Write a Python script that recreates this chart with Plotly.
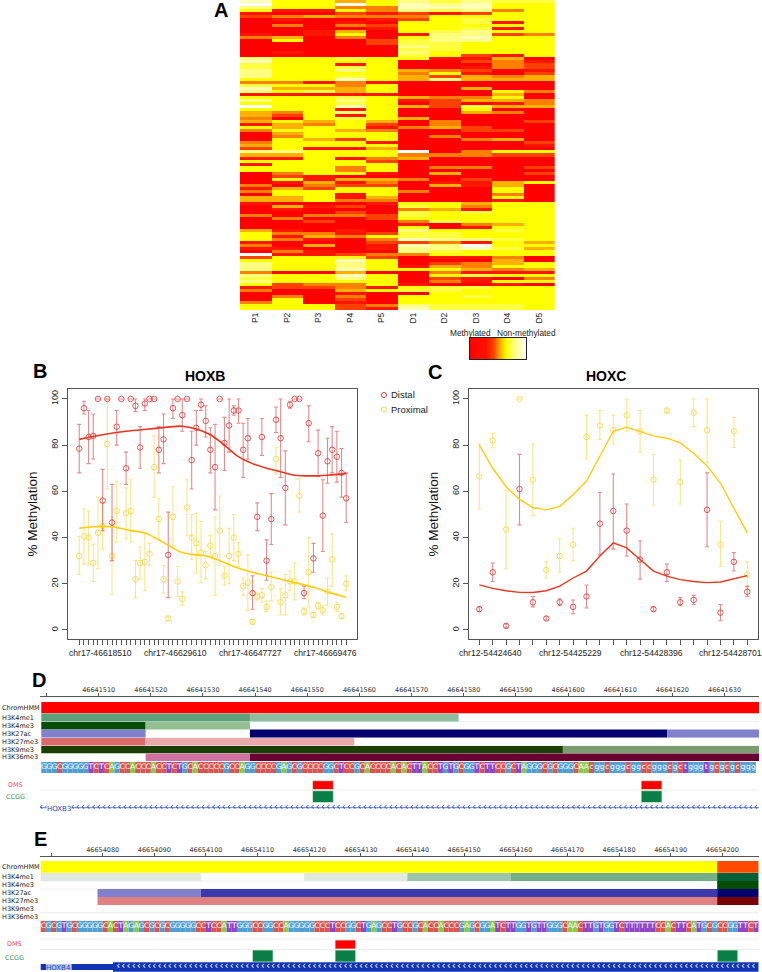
import plotly.graph_objects as go

W, H = 762, 972
SANS = "Liberation Sans"
DJ = "DejaVu Sans"

# ---------- Panel A data ----------
SAMPLES = ["P1", "P2", "P3", "P4", "P5", "D1", "D2", "D3", "D4", "D5"]
METHYL_ROWS = [
    "8554576766", "9559587855", "7553388855", "5115376735", "1002121255",
    "2343335555", "0100125655", "0001055615", "0303255555", "0000155615",
    "0014056755", "1015017723", "3403057855", "0500267755", "0000266555",
    "0000076555", "0000066555", "0100075555", "0000065215", "7556551140",
    "8555500231", "6551500032", "6556500132", "7557543201", "7555535102",
    "7556542434", "5558547444", "3313100000", "6553500000", "8444500400",
    "7564500053", "1111100040", "5556543350", "7557512443", "5556502013",
    "9558542644", "5551500500", "4357500430", "4251500000", "3056540000",
    "4545403002", "1435203000", "5455134200", "3554300220", "0455500000",
    "0355503000", "0542500340", "3555100002", "4555500001", "2511400000",
    "7755590355", "4455533322", "1151340000", "5555200000", "1555500000",
    "5553503302", "5553500000", "0355104002", "0210000000", "0514430200",
    "0141301145", "3032204140", "1425500050", "3555530050", "0551500030",
    "4451400050", "4453300010", "1000155455", "0412065355", "0100034155",
    "0002065655", "3033265555", "0300255555", "0020036555", "0000010345",
    "0000050155", "4101075565", "5331266555", "5143566555", "5310387765",
    "1000223154", "3040187955", "1100177864", "0310076555", "9112335555",
    "2555201130", "5558500040", "7557502345", "7557514355", "7558555434",
    "3004003111", "7558505655", "6557502103", "7555503155", "5233510010",
    "1223156655", "3004566555", "0001005555", "0303055655", "0502055555",
    "3501055555", "5552376665", "5552186665",
]
LEVELS = [0, .30, .42, .48, .55, .65, .72, .80, .90, 1]
LEVEL_COLORS = ["#FF0000", "#FF1500", "#FF4000", "#FF8000", "#FFB000",
                "#FFFF00", "#FFFF40", "#FFFF80", "#FFFFB8", "#FFFFFF"]

# ---------- Panel B data ----------
B_DISTAL = [78.5, 96, 83.5, 84, 100, 56, 100, 46.5, 88, 100, 70, 100, 97, 79, 98, 100, 100, 78, 82.5, 32.5,
            96, 100, 93, 100, 73.5, 87.5, 97.5, 90.5, 78, 70.5, 100, 81, 88.5, 95, 95, 78, 83, 16, 49, 83.5,
            30, 48, 91, 83, 61.5, 97.5, 100, 100, 16, 89.5, 31, 76.5, 49.5, 73, 78, 75, 68, 57]
B_DISTAL_LO = [68, 93.5, 72, 74, 100, 43, 100, 30, 80, 100, 63, 100, 94.5, 70, 95, 100, 100, 68, 72, 14,
               91.5, 100, 86, 100, 61, 80, 95, 83.5, 68, 52, 100, 69, 77, 93, 89.5, 66, 74, 9, 43, 75.5,
               21.5, 37, 85.5, 66, 45.5, 96, 100, 100, 13.5, 81.5, 25, 66.5, 34, 63.5, 68, 64, 57.5, 46.5]
B_DISTAL_HI = [89, 99, 95, 93.5, 100, 69.5, 100, 63, 95, 100, 77, 100, 100, 88, 100, 100, 100, 88, 93.5, 51,
               100, 100, 100, 100, 86, 95, 100, 97, 87.5, 89, 100, 92, 100, 97, 100, 89.5, 91.5, 23.5, 55, 91.5,
               39, 59, 96.5, 100, 77.5, 99, 100, 100, 19, 97, 37.5, 86.5, 65, 83, 88, 86, 78.5, 68]
B_PROX = [32, 40.5, 40, 29, 42, 45, 80.5, 32, 51.5, None, 50.5, 51.5, 22, 29, 29.5, 33, 70.5, 48, 22, 5,
          49, 21, 13.5, 53, 40, 37.5, 33.5, 28, 36.5, 32, 43, 23.5, 32, 40, 33, 19, 20.5, 3.5, 14.5, 15,
          10, 18.5, 74, 12, 15, 21, 21, 58, 8, 25, 6.5, 10.5, 8.5, 16.5, 30.5, 10, 6, 20]
B_PROX_LO = [24, 28.5, 28.5, 21, 26.5, 35, 61, 15.5, 38, None, 39.5, 38, 14, 22, 17, 28, 57.5, 39, 16, 4,
             36, 14.5, 10.5, 41, 30.5, 24.5, 20.5, 22, 32, 15, 28, 19.5, 20, 30, 27.5, 15, 8.5, 2.5, 13, 12,
             8, 12.5, 68, 6.5, 6.5, 17, 13, 51, 6.5, 10, 5.5, 9, 6.5, 10.5, 19, 8, 5, 17]
B_PROX_HI = [40.5, 52.5, 51.5, 37, 57.5, 55, 100, 49, 64.5, None, 61.5, 65, 30, 36, 42, 37.5, 84, 57, 28, 6,
             62, 27.5, 16.5, 65, 50, 50.5, 47, 34, 41, 49, 58, 27.5, 44, 50, 38, 22.5, 32.5, 4.5, 16, 18,
             12.5, 25, 79, 18, 24, 25.5, 29, 65.5, 9.5, 40, 7.5, 12, 10.5, 22.5, 41.5, 12, 7, 23.5]
B_SMOOTH_RED_X = [0, 5, 10, 15, 20, 22, 25, 28, 31, 34, 37, 40, 43, 46, 50, 53, 57]
B_SMOOTH_RED = [82.5, 84.5, 86, 87, 88, 88.2, 87, 84.5, 80, 75, 72, 70, 68.5, 67, 66.7, 67, 67.8]
B_SMOOTH_YEL_X = [0, 3, 7, 11, 14, 17, 20, 22, 25, 27, 30, 33, 36, 40, 45, 50, 53, 57]
B_SMOOTH_YEL = [44, 44.7, 44.7, 43, 42, 39, 35.5, 33.5, 32.5, 32, 30, 27.5, 25.5, 23.5, 21, 18.5, 16.5, 14.2]
B_LABELS = ["chr17-46618510", "chr17-46629610", "chr17-46647727", "chr17-46669476"]

# ---------- Panel C data ----------
C_DISTAL = [9, 25, 1.8, 61, 12, 5, 12, 10, 14.5, 46, 51.5, 43, 30.5, 9, 25, 12, 13, 52, 7.5, 29.5, 16.5]
C_DISTAL_LO = [8, 21, 1, 45.5, 10, 4.3, 10.5, 7, 9.5, 32.5, 35, 32, 22, 8.2, 21, 10.5, 11, 36, 4, 25.5, 14.5]
C_DISTAL_HI = [10, 29, 2.6, 76, 14.5, 5.7, 13.5, 13, 19.5, 59.5, 67.5, 54.5, 38.5, 10, 28.5, 14, 15, 68, 11, 33.5, 19]
C_PROX = [66.5, 82, 43.5, 100, 65, 26, 32, 37, 83.5, 88.5, 86.5, 93, 86, 65, 95, 64, 94, 86.5, 37, 86, 24]
C_PROX_LO = [52.5, 79, 26.5, 100, 49.5, 22.5, 25, 30, 74, 82.5, 80.5, 86, 77, 54, 94, 54.5, 88, 72.5, 27.5, 79, 18.5]
C_PROX_HI = [80.5, 85, 60.5, 100, 80.5, 29.5, 39.5, 44, 93, 95, 93, 100, 95, 76, 96, 73.5, 100, 100, 47, 92, 29.5]
C_SMOOTH_RED = [19.5, 18, 17, 16.3, 16.2, 17, 19, 22.5, 25.5, 32, 37.7, 35.5, 30.5, 25.5, 23.3, 21.8, 21, 20.5, 20.8, 22, 23.5]
C_SMOOTH_YEL = [80, 70, 62, 56.5, 53, 52, 53.5, 58.5, 64.5, 75, 86, 87.8, 86, 84, 83, 81, 76.5, 71, 63.5, 53, 42]
C_LABELS = ["chr12-54424640", "chr12-54425229", "chr12-54428396", "chr12-54428701"]

# ---------- Panel D data ----------
TRACK_NAMES = ["ChromHMM", "H3K4me1", "H3K4me3", "H3K27ac", "H3K27me3", "H3K9me3", "H3K36me3"]
D_START, D_END = 46641499, 46641637
D_CHROMHMM = [(46641499, 46641637, "A")]
D_K4ME1 = [(46641499, 46641539, "B"), (46641539, 46641579, "C")]
D_K4ME3 = [(46641499, 46641519, "A"), (46641519, 46641539, "C")]
D_K27AC = [(46641499, 46641519, "C"), (46641539, 46641619, "A"), (46641619, 46641637, "C")]
D_K27ME3 = [(46641499, 46641519, "B"), (46641519, 46641559, "C")]
D_K9ME3 = [(46641499, 46641599, "A"), (46641599, 46641637, "C")]
D_K36ME3 = [(46641519, 46641539, "C"), (46641539, 46641637, "A")]
D_SEQUENCE = ("GGGCGGGGGTCTCAGCCACCCACCTCTGCACCCCCGCCAGGCCCCGAGCGCCCCGGCTCCGCACCCCAC"
              "ACTTACCTGTGCGGTCTTCCGCTAGGGCGCGGGCAAcggcgggcggccgggcgctgggtgcgcgcggg")
D_DMS = [(46641551, 46641555), (46641614, 46641618)]
D_CCGG = [(46641551, 46641555), (46641614, 46641618)]
D_TICKS = [46641500, 46641510, 46641520, 46641530, 46641540, 46641550, 46641560, 46641570,
           46641580, 46641590, 46641600, 46641610, 46641620, 46641630]

# ---------- Panel E data ----------
E_START, E_END = 46654068, 46654207
E_CHROMHMM = [(46654068, 46654199, "Y"), (46654199, 46654207, "O")]
E_K4ME1 = [(46654068, 46654099, "P"), (46654119, 46654139, "P"), (46654139, 46654159, "C"),
           (46654159, 46654199, "B"), (46654199, 46654207, "A")]
E_K4ME3 = [(46654199, 46654207, "A")]
E_K27AC = [(46654079, 46654099, "C"), (46654099, 46654199, "B"), (46654199, 46654207, "A")]
E_K27ME3 = [(46654079, 46654199, "B"), (46654199, 46654207, "A")]
E_K9ME3 = []
E_K36ME3 = []
E_SEQUENCE = ("CGCGTGCGGGGGCACTAGAGCGCGCGGGGGCCTCCATTGGGCCGGCCAGGGGGCCCTCCGGCTGAGCCTG"
              "CCGCACCACCCGAGCGGATCTTGGTGTTGGGCAACTTGTGGTCTTTTTTCCACTTCATGCGCCGGTTCT")
E_DMS = [(46654125, 46654129)]
E_CCGG = [(46654109, 46654113), (46654125, 46654129), (46654199, 46654203)]
E_TICKS = [46654070, 46654080, 46654090, 46654100, 46654110, 46654120, 46654130, 46654140,
           46654150, 46654160, 46654170, 46654180, 46654190, 46654200]

# ---------- styles ----------
RED_LINE, YEL_LINE = "#E6361F", "#FFCC0A"
RED_PT, YEL_PT = "rgba(214,50,50,0.80)", "rgba(245,215,70,0.85)"
RED_ERR, YEL_ERR = "rgba(214,60,60,0.60)", "rgba(248,222,100,0.75)"
AX = "#555555"
SEQ_COL = {"A": "#8CC84B", "C": "#DB5550", "G": "#4F9FD2", "T": "#8E45C8"}
SHADES = {
    "ChromHMM": {"A": "#FF0000", "Y": "#FFFF00", "O": "#FF4A00"},
    "H3K4me1": {"A": "#06603A", "B": "#5CA17A", "C": "#8DBD9F", "P": "#E0EAE3"},
    "H3K4me3": {"A": "#054D05", "C": "#95BE91"},
    "H3K27ac": {"A": "#00006E", "B": "#3A3AAE", "C": "#8080CC"},
    "H3K27me3": {"A": "#780000", "B": "#DB6A6A", "C": "#EBAAAA"},
    "H3K9me3": {"A": "#1A4000", "C": "#7A9E70"},
    "H3K36me3": {"A": "#6B0033", "C": "#D070A0"},
}
SHADES_E = dict(SHADES)
SHADES_E["H3K4me1"] = {"A": "#06603A", "B": "#74AE88", "C": "#9CC4A8", "P": "#DFE9E2"}
SHADES_E["H3K27me3"] = {"A": "#780000", "B": "#E08080"}

def px(x):
    return x / W

def py(y):
    return 1 - y / H

def rect_domain(x0, x1, y0, y1):
    return [px(x0), px(x1)], [py(y1), py(y0)]

fig = go.Figure()

# ---------- A: heatmap ----------
z = [[LEVELS[int(c)] for c in row] for row in METHYL_ROWS]
fig.add_trace(go.Heatmap(
    z=z, x=SAMPLES, y=list(range(len(METHYL_ROWS))), xaxis="x", yaxis="y", zmin=0, zmax=1,
    colorscale=[[l, c] for l, c in zip(LEVELS, LEVEL_COLORS)], hoverinfo="skip", showscale=False))
# colour key: its own small heatmap
KEY_STEPS = [i / 60 for i in range(61)]
fig.add_trace(go.Heatmap(
    z=[KEY_STEPS], xaxis="x6", yaxis="y6", zmin=0, zmax=1,
    colorscale=[[l, c] for l, c in zip(LEVELS, LEVEL_COLORS)], hoverinfo="skip", showscale=False))

# ---------- B / C ----------
def err_plus(v, hi):
    return [None if a is None else b - a for a, b in zip(v, hi)]

def err_minus(v, lo):
    return [None if a is None else a - b for a, b in zip(v, lo)]

def points(v, lo, hi, name, pt, er, xa, ya):
    fig.add_trace(go.Scatter(
        x=list(range(len(v))), y=v, mode="markers", name=name, showlegend=False, xaxis=xa, yaxis=ya,
        marker=dict(symbol="circle-open", size=5.5, color=pt, line=dict(width=1, color=pt)),
        error_y=dict(type="data", symmetric=False, array=err_plus(v, hi), arrayminus=err_minus(v, lo),
                     color=er, thickness=1.1, width=2),
        hoverinfo="skip"))

points(B_PROX, B_PROX_LO, B_PROX_HI, "Proximal", YEL_PT, YEL_ERR, "x2", "y2")
points(B_DISTAL, B_DISTAL_LO, B_DISTAL_HI, "Distal", RED_PT, RED_ERR, "x2", "y2")
fig.add_trace(go.Scatter(x=B_SMOOTH_YEL_X, y=B_SMOOTH_YEL, mode="lines", line=dict(color=YEL_LINE, width=1.6, shape="spline"),
                         xaxis="x2", yaxis="y2", showlegend=False, hoverinfo="skip"))
fig.add_trace(go.Scatter(x=B_SMOOTH_RED_X, y=B_SMOOTH_RED, mode="lines", line=dict(color=RED_LINE, width=1.6, shape="spline"),
                         xaxis="x2", yaxis="y2", showlegend=False, hoverinfo="skip"))

points(C_PROX, C_PROX_LO, C_PROX_HI, "Proximal", YEL_PT, YEL_ERR, "x3", "y3")
points(C_DISTAL, C_DISTAL_LO, C_DISTAL_HI, "Distal", RED_PT, RED_ERR, "x3", "y3")
fig.add_trace(go.Scatter(x=list(range(len(C_SMOOTH_YEL))), y=C_SMOOTH_YEL, mode="lines", line=dict(color=YEL_LINE, width=1.4),
                         xaxis="x3", yaxis="y3", showlegend=False, hoverinfo="skip"))
fig.add_trace(go.Scatter(x=list(range(len(C_SMOOTH_RED))), y=C_SMOOTH_RED, mode="lines", line=dict(color=RED_LINE, width=1.4),
                         xaxis="x3", yaxis="y3", showlegend=False, hoverinfo="skip"))

# ---------- D / E tracks ----------
annotations, shapes = [], []

def genome_panel(tracks, shades, seq, start, end, dms, ccgg, rows, seq_row, dms_row, ccgg_row, xa, ya):
    ys, ws, bases, lens, cols = [], [], [], [], []
    for name, segs, (y0, y1) in zip(TRACK_NAMES, tracks, rows):
        for s, e, k in segs:
            ys.append((y0 + y1) / 2); ws.append(y1 - y0); bases.append(s); lens.append(e - s)
            cols.append(shades[name][k])
    fig.add_trace(go.Bar(y=ys, x=lens, base=bases, width=ws, orientation="h", xaxis=xa, yaxis=ya,
                         marker=dict(color=cols, line=dict(width=0)), hoverinfo="skip", showlegend=False))
    pos = [start + i for i in range(len(seq))]
    sy = (seq_row[0] + seq_row[1]) / 2
    fig.add_trace(go.Bar(y=[sy] * len(seq), x=[1] * len(seq), base=pos, width=seq_row[1] - seq_row[0],
                         orientation="h", xaxis=xa, yaxis=ya, hoverinfo="skip", showlegend=False,
                         marker=dict(color=[SEQ_COL[c.upper()] for c in seq], line=dict(width=0))))
    fig.add_trace(go.Scatter(x=[p + 0.5 for p in pos], y=[sy] * len(seq), text=list(seq), mode="text",
                             textfont=dict(family=DJ, size=7.5, color="white"), textposition="middle center",
                             xaxis=xa, yaxis=ya, hoverinfo="skip", showlegend=False))
    for segs, (y0, y1), col in ((dms, dms_row, "#FF0000"), (ccgg, ccgg_row, "#0A7F46")):
        fig.add_trace(go.Bar(y=[(y0 + y1) / 2] * len(segs), x=[e - s for s, e in segs], base=[s for s, e in segs],
                             width=y1 - y0, orientation="h", xaxis=xa, yaxis=ya, hoverinfo="skip", showlegend=False,
                             marker=dict(color=col, line=dict(width=0.8, color="#D8EAD8"))))

D_ROWS = [(702, 713.3), (713.5, 721.6), (722, 729.6), (729.6, 737.6), (738, 745.6), (746, 753.3), (753.6, 761)]
genome_panel([D_CHROMHMM, D_K4ME1, D_K4ME3, D_K27AC, D_K27ME3, D_K9ME3, D_K36ME3], SHADES, D_SEQUENCE,
             D_START, D_END, D_DMS, D_CCGG, D_ROWS, (762, 773), (780.7, 789.5), (790.7, 802.5), "x4", "y4")
E_ROWS = [(861, 872.7), (873, 881), (881, 889), (889, 897), (897, 905), (905, 912.5), (913, 920)]
genome_panel([E_CHROMHMM, E_K4ME1, E_K4ME3, E_K27AC, E_K27ME3, E_K9ME3, E_K36ME3], SHADES_E, E_SEQUENCE,
             E_START, E_END, E_DMS, E_CCGG, E_ROWS, (921, 932), (940, 949), (950, 962), "x5", "y5")

# gene models
GENE_BLUE = "#2446B4"
d_pos = list(range(D_START, D_END))
fig.add_trace(go.Scatter(x=[D_START - 0.25, D_END - 0.4], y=[807.7, 807.7], mode="lines", line=dict(color=GENE_BLUE, width=0.7),
                         xaxis="x4", yaxis="y4", hoverinfo="skip", showlegend=False))
fig.add_trace(go.Scatter(x=d_pos, y=[807.2] * len(d_pos), text=["\u2039"] * len(d_pos), mode="text",
                         textfont=dict(family=DJ, size=10, color=GENE_BLUE), xaxis="x4", yaxis="y4",
                         hoverinfo="skip", showlegend=False))
fig.add_trace(go.Bar(y=[967, 967, 967], x=[14, 5, 125], base=[46654068, 46654069, 46654082],
                     width=[6, 6, 9.5], orientation="h", xaxis="x5", yaxis="y5", hoverinfo="skip", showlegend=False,
                     marker=dict(color=["#1034B4", "#B8C6EC", "#1034B4"], line=dict(width=0))))
e_pos = list(range(46654083, E_END))
fig.add_trace(go.Scatter(x=e_pos, y=[966.5] * len(e_pos), text=["\u2039"] * len(e_pos), mode="text",
                         textfont=dict(family=DJ, size=10, color="white"), xaxis="x5", yaxis="y5",
                         hoverinfo="skip", showlegend=False))

def text(t, x, y, size=9, color="#111111", family=SANS, bold=False, angle=0, xanchor="center", bg=None):
    annotations.append(dict(text=f"<b>{t}</b>" if bold else t, x=px(x), y=py(y), xref="paper", yref="paper",
                            showarrow=False, xanchor=xanchor, yanchor="middle", textangle=angle,
                            font=dict(size=size, color=color, family=family), bgcolor=bg, borderpad=0))

text("A", 221, 10, 20, "#000", SANS, True)
text("B", 40, 371, 20, "#000", SANS, True)
text("C", 435, 372, 20, "#000", SANS, True)
text("D", 39, 680, 20, "#000", SANS, True)
text("E", 40, 839, 20, "#000", SANS, True)
text("HOXB", 205, 376, 14, "#000", SANS, True)
text("HOXC", 606, 376, 14, "#000", SANS, True)
text("Methylated", 470, 333, 8.3, "#222")
text("Non-methylated", 526, 333, 8.3, "#222")
text("Distal", 390, 395, 9.5, "#222", xanchor="left")
text("Proximal", 390, 409.5, 9.5, "#222", xanchor="left")
for yy, col in ((395, "#D83A3A"), (409.5, "#F0D24A")):
    shapes.append(dict(type="circle", xref="paper", yref="paper", x0=px(381.5), x1=px(386.5), y0=py(yy - 2.5), y1=py(yy + 2.5),
                       line=dict(color=col, width=1)))
for lab, cx_ in zip(B_LABELS, (100, 175, 250, 325)):
    text(lab, cx_, 652.7, 8.6, "#222")
for lab, cx_ in zip(C_LABELS, (490.7, 570.7, 651, 730.5)):
    text(lab, cx_, 652.7, 8.6, "#222")

for name, (y0, y1) in zip(TRACK_NAMES, D_ROWS):
    text(name, 0.5, (y0 + y1) / 2, 6.5, "#222", DJ, xanchor="left")
text("DMS", 15.7, 784.7, 6.5, "#E8506A", DJ)
text("CCGG", 15.5, 796.7, 6.5, "#3C9B6B", DJ)
text("HOXB3", 58.5, 808.5, 7, GENE_BLUE, DJ, bg="white")
for name, (y0, y1) in zip(TRACK_NAMES, E_ROWS):
    text(name, 0.5, (y0 + y1) / 2, 6.5, "#222", DJ, xanchor="left")
text("DMS", 14.3, 944, 6.5, "#E8506A", DJ)
text("CCGG", 14.5, 957.7, 6.5, "#3C9B6B", DJ)
text("HOXB4", 58, 968, 7, GENE_BLUE, DJ)

for yy in (721.7, 737.8, 745.8, 790, 803, 881, 889, 912.6, 920.5, 939, 949.5):
    shapes.append(dict(type="line", xref="paper", yref="paper", x0=px(40), x1=px(759), y0=py(yy), y1=py(yy),
                       line=dict(color="#E6E6E6", width=0.7), layer="below"))

def r_xaxis(n, rng, dom):
    return dict(domain=dom, range=rng, anchor=f"y{n}", showgrid=False, zeroline=False, showline=True, linecolor=AX,
                linewidth=1, mirror=True, ticks="outside", ticklen=5, tickcolor=AX, tickwidth=1, automargin=False,
                tickmode="array", tickvals=list(range(n_pts[n])), showticklabels=False)

def r_yaxis(n, dom):
    return dict(domain=dom, range=[-3.9, 104.3], anchor=f"x{n}", showgrid=False, zeroline=False, showline=True,
                linecolor=AX, linewidth=1, mirror=True, ticks="outside", ticklen=5, tickcolor=AX, tickwidth=1,
                automargin=False,
                tickvals=[0, 20, 40, 60, 80, 100], tickangle=-90, tickfont=dict(size=9, family=SANS, color="#222"),
                title=dict(text="% Methylation", font=dict(size=13.5, family=SANS, color="#111"), standoff=9))

def genome_xaxis(n, ticks, rng, dom):
    return dict(domain=dom, range=rng, anchor=f"y{n}", side="top", showgrid=False, zeroline=False, showline=True,
                linecolor=AX, linewidth=1, ticks="outside", ticklen=3, tickcolor=AX, tickvals=ticks, automargin=False,
                ticktext=["" if i == 0 else str(t) for i, t in enumerate(ticks)], ticklabelstandoff=-2,
                tickfont=dict(size=6.5, family=DJ, color="#333"), tickangle=0)

def genome_yaxis(n, y0, y1, dom):
    return dict(domain=dom, range=[y1, y0], anchor=f"x{n}", visible=False, automargin=False)

n_pts = {2: len(B_DISTAL), 3: len(C_DISTAL)}
xa_dom, ya_dom = rect_domain(240, 554.7, 0, 310)
bx, by = rect_domain(68, 357, 389, 639)
cx, cy = rect_domain(469, 758, 389, 639)
dx, dy = rect_domain(40, 759, 697, 812)
ex, ey = rect_domain(40, 759, 857, 972)
kx, ky = rect_domain(470, 526, 338, 359)

fig.update_layout(
    width=W, height=H, margin=dict(l=0, r=0, t=0, b=0), paper_bgcolor="white", plot_bgcolor="white",
    barmode="overlay", showlegend=False, font=dict(family=SANS),
    annotations=annotations, shapes=shapes,
    xaxis=dict(domain=xa_dom, anchor="y", showgrid=False, zeroline=False, ticks="",
               tickangle=-90, automargin=False, tickfont=dict(size=8.5, family=SANS, color="#222")),
    yaxis=dict(domain=ya_dom, anchor="x", autorange="reversed", visible=False, automargin=False),
    xaxis2=r_xaxis(2, [-2.4, 59.3], bx), yaxis2=r_yaxis(2, by),
    xaxis3=r_xaxis(3, [-0.77, 20.8], cx), yaxis3=r_yaxis(3, cy),
    xaxis4=genome_xaxis(4, D_TICKS, [46641498.75, 46641636.6], dx), yaxis4=genome_yaxis(4, 697, 812, dy),
    xaxis5=genome_xaxis(5, E_TICKS, [46654067.86, 46654207.1], ex), yaxis5=genome_yaxis(5, 857, 972, ey),
    xaxis6=dict(domain=kx, anchor="y6", showticklabels=False, ticks="", showgrid=False, zeroline=False,
                showline=True, linecolor="#222", mirror=True, automargin=False),
    yaxis6=dict(domain=ky, anchor="x6", showticklabels=False, ticks="", showgrid=False, zeroline=False,
                showline=True, linecolor="#222", mirror=True, automargin=False),
)

fig.write_html("out.html", config={"displayModeBar": False},
               post_script="document.body.style.margin='0';document.documentElement.style.overflow='hidden';")
